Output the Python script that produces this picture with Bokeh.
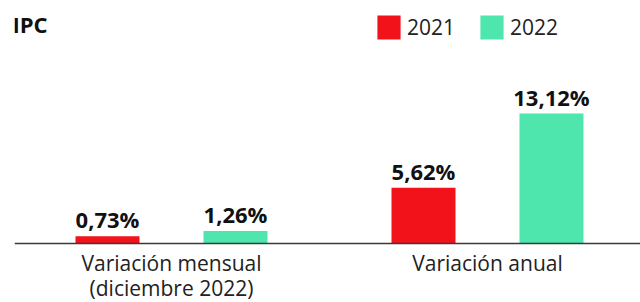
from bokeh.plotting import figure
from bokeh.models import Range1d, Span, Label, Legend, LegendItem, ColumnDataSource
from bokeh.transform import dodge
from bokeh.core.properties import value
from bokeh.embed import file_html
from bokeh.resources import INLINE

# ---- data ----
categories = ["Variación mensual\n(diciembre 2022)", "Variación anual"]
group_pos = [0, 1]
years = ["2021", "2022"]
v2021 = [0.73, 5.62]
v2022 = [1.26, 13.12]
lab2021 = ["0,73%", "5,62%"]
lab2022 = ["1,26%", "13,12%"]

RED = "#f2121a"
GREEN = "#4fe6ad"
FONT = "Open Sans"

src = ColumnDataSource(dict(g=group_pos, cat=categories, a=v2021, b=v2022,
                            la=lab2021, lb=lab2022))

p = figure(width=640, height=302, output_backend="svg", toolbar_location=None,
           x_range=Range1d(-0.4968, 1.4842), y_range=Range1d(-5.96, 24.545),
           min_border_left=14, min_border_right=0, min_border_top=0, min_border_bottom=0)
p.axis.visible = False
p.grid.visible = False
p.outline_line_color = None
p.background_fill_color = "white"
p.border_fill_color = "white"

off = 0.2025
w = 0.2025
r1 = p.vbar(x=dodge("g", -off), top="a", bottom=0, width=w, source=src,
            fill_color=RED, line_color=None)
r2 = p.vbar(x=dodge("g", off), top="b", bottom=0, width=w, source=src,
            fill_color=GREEN, line_color=None)

p.add_layout(Span(location=0, dimension="width", line_color="#3a3a3a", line_width=1.3))

p.text(x=dodge("g", -off), y="a", text="la", source=src, text_align="center",
       text_baseline="bottom", y_offset=-2, text_font=value(FONT),
       text_font_style="bold", text_font_size="22px", text_color="#111111")
p.text(x=dodge("g", off), y="b", text="lb", source=src, text_align="center",
       text_baseline="bottom", y_offset=-2, text_font=value(FONT),
       text_font_style="bold", text_font_size="22px", text_color="#111111")

p.text(x="g", y=0, text="cat", source=src, text_align="center",
       text_baseline="top", y_offset=6, text_font=value(FONT),
       text_font_size="21px", text_color="#222222", text_line_height=0.88)

p.add_layout(Label(x=-2, y=294, x_units="screen", y_units="screen", text="IPC",
                   text_font=FONT, text_font_style="bold", text_font_size="22px",
                   text_color="#111111", text_baseline="top"))

legend = Legend(items=[LegendItem(label=years[0], renderers=[r1]),
                       LegendItem(label=years[1], renderers=[r2])],
                location=(360, 260), orientation="horizontal",
                glyph_width=29, glyph_height=30, label_standoff=4, spacing=22,
                padding=0, margin=0, border_line_color=None, background_fill_alpha=0,
                label_text_font=FONT, label_text_font_size="21px",
                label_text_color="#222222", label_height=30)
p.add_layout(legend)

open("out.html", "w").write(file_html(p, INLINE))
